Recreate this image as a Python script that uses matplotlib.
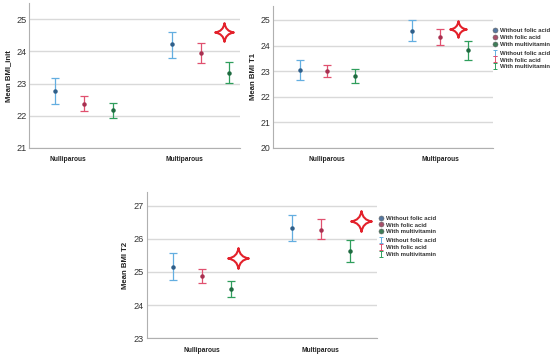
import matplotlib
matplotlib.use("Agg")
import matplotlib.pyplot as plt
from matplotlib.path import Path
from matplotlib.lines import Line2D

plt.rcParams['font.family'] = ['Liberation Sans', 'DejaVu Sans']

groups = ["Nulliparous", "Multiparous"]
series = ["Without folic acid", "With folic acid", "With multivitamin"]

# mean and 95% CI, rows = series, cols = (Nulliparous, Multiparous)
init_mean = [[22.78, 24.22], [22.38, 23.96], [22.18, 23.34]]
init_lo = [[22.37, 23.79], [22.16, 23.65], [21.93, 23.01]]
init_hi = [[23.17, 24.61], [22.60, 24.26], [22.41, 23.67]]

t1_mean = [[23.04, 24.58], [23.00, 24.35], [22.81, 23.82]]
t1_lo = [[22.64, 24.17], [22.76, 24.01], [22.53, 23.44]]
t1_hi = [[23.44, 24.99], [23.23, 24.66], [23.09, 24.17]]

t2_mean = [[25.16, 26.32], [24.88, 26.28], [24.48, 25.64]]
t2_lo = [[24.76, 25.93], [24.66, 26.00], [24.24, 25.31]]
t2_hi = [[25.58, 26.71], [25.10, 26.59], [24.73, 25.96]]

# red star annotations (x in group units, y in BMI)
init_star_x = [1.20]
init_star_y = [24.60]
t1_star_x = [1.16]
t1_star_y = [24.64]
t2_star_x = [0.305, 1.334]
t2_star_y = [25.42, 26.54]

bar_colors = ["#63aee0", "#e0506f", "#2f9e5c"]
dot_colors = ["#2f5f8a", "#a83050", "#1f6a40"]
leg_dot_colors = ["#5577a0", "#a8506a", "#3f7d58"]

# four pointed star marker with concave sides
c = 0.12
star = Path([(0, 1), (c, c), (1, 0), (c, -c), (0, -1), (-c, -c), (-1, 0), (-c, c), (0, 1), (0, 1)],
            [Path.MOVETO, Path.CURVE3, Path.CURVE3, Path.CURVE3, Path.CURVE3,
             Path.CURVE3, Path.CURVE3, Path.CURVE3, Path.CURVE3, Path.CLOSEPOLY])

# I-beam glyph for the error bar legend
ibeam = Path([(-0.6, 1), (0.6, 1), (0, 1), (0, -1), (-0.6, -1), (0.6, -1)],
             [Path.MOVETO, Path.LINETO, Path.MOVETO, Path.LINETO, Path.MOVETO, Path.LINETO])

fig = plt.figure(figsize=(5.5, 3.58), dpi=100)


def panel(rect, mean, lo, hi, ylab, ylim, yticks, xlim, sx, sy, star_size, lab_shift=0.0, tsize=6.3):
    ax = fig.add_axes(rect)
    off = 0.246
    for i in range(3):
        xs = [g + (i - 1) * off for g in range(2)]
        yerr = [[mean[i][g] - lo[i][g] for g in range(2)],
                [hi[i][g] - mean[i][g] for g in range(2)]]
        ax.errorbar(xs, mean[i], yerr=yerr, fmt='none', ecolor=bar_colors[i],
                    elinewidth=0.9, capsize=3.2, capthick=0.9)
        ax.plot(xs, mean[i], 'o', ms=2.2, color=dot_colors[i], zorder=3)
    ax.plot(sx, sy, marker=star, ms=star_size, ls='none', mfc='white', mec='#e3212b',
            mew=1.5, zorder=4)
    ax.set_xlim(xlim)
    ax.set_ylim(ylim)
    ax.set_yticks(yticks)
    ax.set_xticks([g + lab_shift for g in range(2)])
    ax.set_xticklabels(groups, fontsize=4.8, fontweight='bold', color='#222222')
    ax.tick_params(axis='both', length=0)
    ax.tick_params(axis='y', labelsize=tsize, labelcolor='#333333', pad=2)
    ax.tick_params(axis='x', pad=6)
    ax.grid(axis='y', color='#d9d9d9', lw=1)
    ax.set_axisbelow(True)
    for s in ['top', 'right']:
        ax.spines[s].set_visible(False)
    for s in ['left', 'bottom']:
        ax.spines[s].set_color('#b0b0b0')
        ax.spines[s].set_linewidth(0.8)
    ax.set_ylabel(ylab, fontsize=5.6, fontweight='bold', color='#222222', labelpad=3)
    return ax


def legends(x, y, gap):
    kw = dict(frameon=False, loc='upper left', fontsize=4.3, handlelength=0.6,
              handletextpad=0.5, labelspacing=0.28, borderpad=0, borderaxespad=0,
              labelcolor='#333333')
    dots = [Line2D([], [], ls='none', marker='o', ms=3.6, mfc=leg_dot_colors[i],
                   mec='#666666', mew=0.4) for i in range(3)]
    bars = [Line2D([], [], ls='none', marker=ibeam, ms=4.2, mfc='none',
                   mec=bar_colors[i], mew=0.7) for i in range(3)]
    l1 = fig.legend(handles=dots, labels=series, bbox_to_anchor=(x, y), **kw)
    l2 = fig.legend(handles=bars, labels=series, bbox_to_anchor=(x, y - gap), **kw)
    for t in l1.get_texts() + l2.get_texts():
        t.set_fontweight('bold')


panel([0.0533, 0.5866, 0.383, 0.404], init_mean, init_lo, init_hi, "Mean BMI_init",
      (21, 25.49), [21, 22, 23, 24, 25], (-0.468, 1.337), init_star_x, init_star_y, 13.5,
      lab_shift=-0.14, tsize=6.6)

panel([0.497, 0.5874, 0.3995, 0.396], t1_mean, t1_lo, t1_hi, "Mean BMI T1",
      (20, 25.55), [20, 21, 22, 23, 24, 25], (-0.478, 1.469), t1_star_x, t1_star_y, 12)
legends(0.897, 0.921, 0.062)

panel([0.2667, 0.055, 0.418, 0.4095], t2_mean, t2_lo, t2_hi, "Mean BMI T2",
      (23, 27.42), [23, 24, 25, 26, 27], (-0.465, 1.468), t2_star_x, t2_star_y, 15,
      tsize=6.6)
legends(0.689, 0.398, 0.062)

fig.savefig("out.png", dpi=100)
